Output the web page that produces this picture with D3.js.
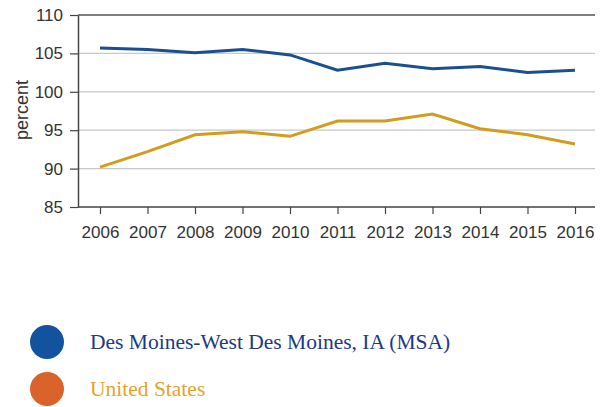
<!DOCTYPE html>
<html>
<head>
<meta charset="utf-8">
<script src="https://cdn.jsdelivr.net/npm/d3@7"></script>
<style>
  body { margin: 0; background: #fff; }
  .axis text { font-family: "Liberation Sans", Arial, sans-serif; font-size: 17px; fill: #333; }
  .legend text { font-family: "Liberation Serif", "Times New Roman", serif; font-size: 21.5px; }
</style>
</head>
<body>
<svg id="chart"></svg>
<script>
const years = [2006, 2007, 2008, 2009, 2010, 2011, 2012, 2013, 2014, 2015, 2016];
const desMoines = [105.7, 105.5, 105.1, 105.5, 104.8, 102.8, 103.7, 103.0, 103.3, 102.5, 102.8];
const unitedStates = [90.2, 92.2, 94.4, 94.8, 94.2, 96.2, 96.2, 97.1, 95.2, 94.4, 93.2];
const yTicks = [85, 90, 95, 100, 105, 110];
const seriesNames = ["Des Moines-West Des Moines, IA (MSA)", "United States"];

const width = 600, height = 407;
const margin = {top: 15, right: 5, bottom: 200, left: 78};
const innerW = width - margin.left - margin.right;
const innerH = height - margin.top - margin.bottom;

const svg = d3.select('#chart').attr('width', width).attr('height', height);
const chart = svg.append('g').attr('transform', `translate(${margin.left},${margin.top})`);

const xScale = d3.scalePoint().domain(years).range([22, 497]);
const yScale = d3.scaleLinear().domain([85, 110]).range([innerH, 0]);

// gridlines
chart.selectAll('.grid').data(yTicks.filter(t => t > 85 && t < 110))
  .join('line')
  .attr('x1', 0).attr('x2', innerW)
  .attr('y1', d => yScale(d)).attr('y2', d => yScale(d))
  .attr('stroke', '#c8c8c8').attr('stroke-width', 1.2);

// top border
chart.append('line')
  .attr('x1', 0).attr('x2', innerW).attr('y1', 0).attr('y2', 0)
  .attr('stroke', '#555').attr('stroke-width', 1.5);

const yAxis = d3.axisLeft(yScale).tickValues(yTicks).tickSize(8).tickPadding(7).tickSizeOuter(0);
const xAxis = d3.axisBottom(xScale).tickSize(7).tickPadding(12).tickSizeOuter(0);

const yG = chart.append('g').attr('class', 'axis').call(yAxis);
const xG = chart.append('g').attr('class', 'axis').attr('transform', `translate(0,${innerH})`).call(xAxis);
xG.select('.domain').attr('d', `M0,0H${innerW}`);
[yG, xG].forEach(g => {
  g.attr('font-size', null).attr('font-family', null);
  g.select('.domain').attr('stroke', '#444').attr('stroke-width', 1.5);
  g.selectAll('.tick line').attr('stroke', '#444').attr('stroke-width', 1.2);
});

chart.append('text')
  .attr('transform', `translate(${22 - margin.left},${110 - margin.top}) rotate(-90)`)
  .attr('text-anchor', 'middle').attr('dy', '0.35em')
  .style('font-family', '"Liberation Sans", Arial, sans-serif')
  .style('font-size', '18px').style('fill', '#333')
  .text('percent');

const line = d3.line().x((d, i) => xScale(years[i])).y(d => yScale(d));

chart.append('path').datum(unitedStates)
  .attr('d', line).attr('fill', 'none')
  .attr('stroke', '#d29c1e').attr('stroke-width', 3);
chart.append('path').datum(desMoines)
  .attr('d', line).attr('fill', 'none')
  .attr('stroke', '#1b4f8e').attr('stroke-width', 3);

// legend
const legendColors = ['#13529e', '#da632b'];
const textColors = ['#1c3a86', '#e3a42c'];
const legend = svg.append('g').attr('class', 'legend');
const items = legend.selectAll('g').data(seriesNames).join('g')
  .attr('transform', (d, i) => `translate(47,${342 + i * 47})`);
items.append('circle').attr('r', 17).attr('fill', (d, i) => legendColors[i]);
items.append('text').attr('x', 43).attr('dy', '0.33em')
  .attr('fill', (d, i) => textColors[i]).text(d => d);
</script>
</body>
</html>
